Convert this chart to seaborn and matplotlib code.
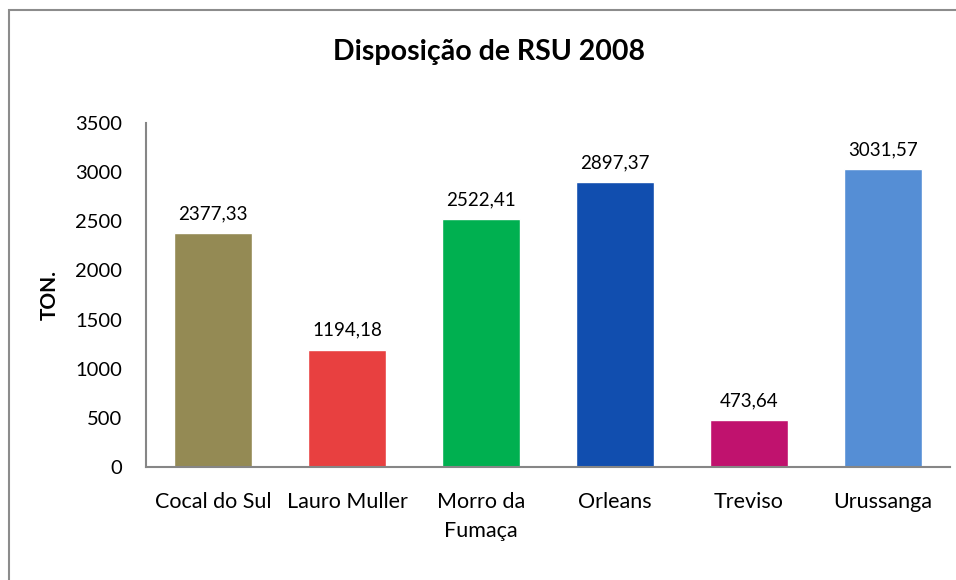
import matplotlib
matplotlib.use("Agg")
import matplotlib.pyplot as plt
import seaborn as sns
import pandas as pd
from matplotlib.patches import Rectangle

# data
municipios = ["Cocal do Sul", "Lauro Muller", "Morro da\nFumaça", "Orleans", "Treviso", "Urussanga"]
toneladas = [2377.33, 1194.18, 2522.41, 2897.37, 473.64, 3031.57]
cores = ["#948A54", "#E84040", "#00B050", "#114EAF", "#C0126E", "#558ED5"]

df = pd.DataFrame({"municipio": municipios, "ton": toneladas})

sns.set_style("white")
plt.rcParams["font.family"] = ["Lato", "DejaVu Sans"]
plt.rcParams["text.color"] = "black"
plt.rcParams["xtick.color"] = "black"
plt.rcParams["ytick.color"] = "black"
plt.rcParams["axes.labelcolor"] = "black"

fig = plt.figure(figsize=(9.56, 5.8), dpi=100)
ax = fig.add_axes([0.1527, 0.1948, 0.841, 0.593])

sns.barplot(data=df, x="municipio", y="ton", hue="municipio", palette=cores,
            width=0.575, legend=False, saturation=1, ax=ax)

for cont in ax.containers:
    ax.bar_label(cont, labels=[f"{v:.2f}".replace(".", ",") for v in cont.datavalues],
                 padding=8, fontsize=13.5)

ax.set_ylim(0, 3500)
ax.set_yticks(range(0, 3501, 500))
ax.set_xlim(-0.5, 5.5)
ax.tick_params(axis="both", length=0)
ax.tick_params(axis="y", pad=17, labelsize=14.5)
ax.tick_params(axis="x", pad=18, labelsize=15.5)
for lbl in ax.get_xticklabels():
    lbl.set_linespacing(1.55)
ax.set_xlabel("")
ax.set_ylabel("TON.", fontsize=15, fontweight="bold", labelpad=11)
for s in ["top", "right"]:
    ax.spines[s].set_visible(False)
for s in ["left", "bottom"]:
    ax.spines[s].set_color("#868686")
    ax.spines[s].set_linewidth(1.5)

fig.text(0.512, 0.91, "Disposição de RSU 2008", ha="center", va="center",
         fontsize=20.5, fontweight="bold")

# chart border
fig.patches.append(Rectangle((0.009, -0.5), 1.5, 0.5 + 0.983, transform=fig.transFigure,
                             fill=False, edgecolor="#8C8C8C", linewidth=1.5))

fig.savefig("out.png", dpi=100)
